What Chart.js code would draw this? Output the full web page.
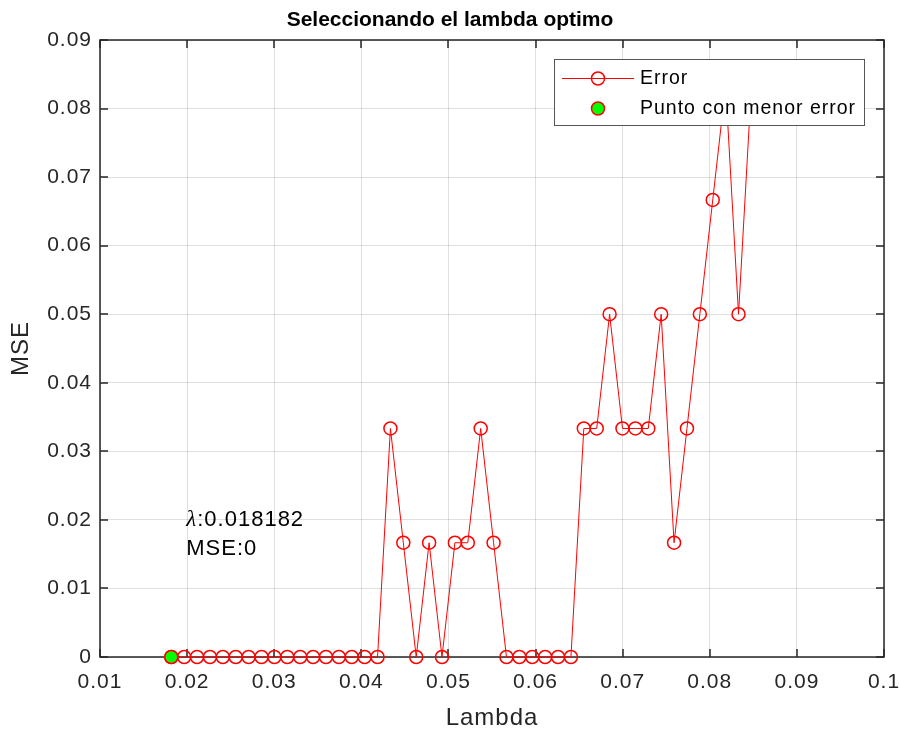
<!DOCTYPE html>
<html>
<head>
<meta charset="utf-8">
<script src="https://cdn.jsdelivr.net/npm/chart.js@4.4.0/dist/chart.umd.min.js"></script>
<style>
  html, body { margin: 0; padding: 0; background: #fff; }
  canvas { display: block; }
</style>
</head>
<body>
<canvas id="myChart" width="900" height="731"></canvas>
<script>
// lambda values that were tried
const lambdas = [
  0.018182, 0.01966, 0.02114, 0.02262, 0.02410, 0.02558, 0.02706, 0.02854,
  0.03002, 0.03150, 0.03298, 0.03446, 0.03594, 0.03742, 0.03890, 0.04038,
  0.04186, 0.04334, 0.04482, 0.04630, 0.04778, 0.04926, 0.05074, 0.05222,
  0.05370, 0.05518, 0.05666, 0.05814, 0.05962, 0.06110, 0.06258, 0.06406,
  0.06554, 0.06702, 0.06850, 0.06998, 0.07146, 0.07294, 0.07442, 0.07590,
  0.07738, 0.07886, 0.08034, 0.08182, 0.08330, 0.08478,
];

// MSE for each lambda
const mseValues = [
  0, 0, 0, 0, 0, 0, 0, 0,
  0, 0, 0, 0, 0, 0, 0, 0,
  0, 0.033333, 0.016667, 0, 0.016667, 0, 0.016667, 0.016667,
  0.033333, 0.016667, 0, 0, 0, 0, 0, 0,
  0.033333, 0.033333, 0.05, 0.033333, 0.033333, 0.033333, 0.05, 0.016667,
  0.033333, 0.05, 0.066667, 0.083333, 0.05, 0.083333,
];

// point with the smallest error
const bestLambda = [0.018182];
const bestMse = [0];

const xTickValues = [0.01, 0.02, 0.03, 0.04, 0.05, 0.06, 0.07, 0.08, 0.09, 0.1];
const xTickLabels = ["0.01", "0.02", "0.03", "0.04", "0.05", "0.06", "0.07", "0.08", "0.09", "0.1"];
const yTickValues = [0, 0.01, 0.02, 0.03, 0.04, 0.05, 0.06, 0.07, 0.08, 0.09];
const yTickLabels = ["0", "0.01", "0.02", "0.03", "0.04", "0.05", "0.06", "0.07", "0.08", "0.09"];

const fontFamily = "'Liberation Sans', Arial, sans-serif";
const axisColor = "#262626";
const gridColor = "rgba(38, 38, 38, 0.15)";

// MATLAB-like text is a bit wider than plain Arial
const textSpacing = {
  id: "textSpacing",
  beforeUpdate(chart) {
    chart.ctx.letterSpacing = "1px";
  },
  beforeDraw(chart) {
    chart.ctx.letterSpacing = "1px";
  },
};

// full box round the axes with inward ticks
const axesBox = {
  id: "axesBox",
  beforeDatasetsDraw(chart) {
    const { ctx, chartArea: a, scales } = chart;
    const len = 8;
    ctx.save();
    ctx.strokeStyle = axisColor;
    ctx.lineWidth = 1.5;
    ctx.strokeRect(a.left, a.top, a.right - a.left, a.bottom - a.top);
    ctx.beginPath();
    xTickValues.forEach((v) => {
      const px = Math.round(scales.x.getPixelForValue(v));
      ctx.moveTo(px, a.bottom);
      ctx.lineTo(px, a.bottom - len);
      ctx.moveTo(px, a.top);
      ctx.lineTo(px, a.top + len);
    });
    yTickValues.forEach((v) => {
      const py = Math.round(scales.y.getPixelForValue(v));
      ctx.moveTo(a.left, py);
      ctx.lineTo(a.left + len, py);
      ctx.moveTo(a.right, py);
      ctx.lineTo(a.right - len, py);
    });
    ctx.stroke();
    ctx.restore();
  },
};

// text next to the best point
const bestLabel = {
  id: "bestLabel",
  afterDatasetsDraw(chart) {
    const { ctx, scales } = chart;
    const x = scales.x.getPixelForValue(bestLambda[0]) + 15;
    const y = scales.y.getPixelForValue(0.02);
    ctx.save();
    ctx.fillStyle = "#000";
    ctx.textBaseline = "middle";
    ctx.textAlign = "left";
    ctx.font = "italic 23px 'Liberation Serif', serif";
    ctx.fillText("λ", x, y);
    const w = ctx.measureText("λ").width;
    ctx.font = "22px " + fontFamily;
    ctx.fillText(":" + bestLambda[0], x + w, y);
    ctx.fillText("MSE:" + bestMse[0], x, y + 29);
    ctx.restore();
  },
};

// legend box inside the axes, top right
const legendBox = {
  id: "legendBox",
  afterDraw(chart) {
    const { ctx, chartArea } = chart;
    const sets = chart.data.datasets;
    ctx.save();
    ctx.font = "19.5px " + fontFamily;
    const textW = Math.max(...sets.map((d) => ctx.measureText(d.label).width));
    const rowH = 30.6;
    const w = Math.round(86 + textW + 8);
    const h = Math.round(rowH * sets.length + 4.5);
    const x = Math.round(chartArea.right - 20 - w);
    const y = Math.round(chartArea.top + 19);
    ctx.fillStyle = "#fff";
    ctx.fillRect(x, y, w, h);
    ctx.strokeStyle = "#555";
    ctx.lineWidth = 1;
    ctx.strokeRect(x + 0.5, y + 0.5, w, h);
    sets.forEach((d, i) => {
      const cy = Math.round(y + 18.5 + i * rowH) + 0.5;
      if (d.showLine !== false) {
        ctx.strokeStyle = d.borderColor;
        ctx.lineWidth = d.borderWidth;
        ctx.beginPath();
        ctx.moveTo(x + 8, cy);
        ctx.lineTo(x + 80, cy);
        ctx.stroke();
      }
      ctx.beginPath();
      ctx.arc(x + 44, cy, d.pointRadius, 0, Math.PI * 2);
      ctx.fillStyle = d.pointBackgroundColor;
      ctx.fill();
      ctx.strokeStyle = d.pointBorderColor;
      ctx.lineWidth = d.pointBorderWidth;
      ctx.stroke();
      ctx.fillStyle = "#000";
      ctx.textBaseline = "middle";
      ctx.textAlign = "left";
      ctx.fillText(d.label, x + 86, cy);
    });
    ctx.restore();
  },
};

// chart title
const chartTitle = {
  id: "chartTitle",
  afterDraw(chart) {
    const { ctx } = chart;
    ctx.save();
    ctx.letterSpacing = "0px";
    ctx.font = "bold 21px " + fontFamily;
    ctx.fillStyle = "#000";
    ctx.textAlign = "center";
    ctx.textBaseline = "middle";
    ctx.fillText("Seleccionando el lambda optimo", 450, 20);
    ctx.restore();
  },
};

const ctx = document.getElementById("myChart").getContext("2d");

new Chart(ctx, {
  type: "line",
  data: {
    datasets: [
      {
        label: "Error",
        data: lambdas.map((x, i) => ({ x: x, y: mseValues[i] })),
        borderColor: "#ff0000",
        borderWidth: 1,
        pointRadius: 6.5,
        pointHoverRadius: 6.5,
        pointBorderColor: "#ff0000",
        pointBackgroundColor: "rgba(0, 0, 0, 0)",
        pointBorderWidth: 1.5,
        tension: 0,
        fill: false,
        clip: false,
        order: 1,
      },
      {
        label: "Punto con menor error",
        data: bestLambda.map((x, i) => ({ x: x, y: bestMse[i] })),
        showLine: false,
        pointRadius: 6.5,
        pointHoverRadius: 6.5,
        pointBackgroundColor: "#00ff00",
        pointBorderColor: "#ff0000",
        pointBorderWidth: 1.5,
        clip: false,
        order: 0,
      },
    ],
  },
  options: {
    responsive: false,
    animation: false,
    devicePixelRatio: 1,
    events: [],
    layout: { padding: { left: 0, right: 16, top: 40, bottom: 0 } },
    plugins: {
      legend: { display: false },
      tooltip: { enabled: false },
      title: { display: false },
    },
    scales: {
      x: {
        type: "linear",
        min: 0.01,
        max: 0.1,
        afterBuildTicks: (s) => {
          s.ticks = xTickValues.map((v) => ({ value: v }));
        },
        afterFit: (s) => {
          s.height = 74;
          s.paddingLeft = 0;
          s.paddingRight = 0;
        },
        ticks: {
          callback: (v, i) => xTickLabels[i],
          color: axisColor,
          font: { family: fontFamily, size: 21 },
          padding: 13,
          maxRotation: 0,
          autoSkip: false,
        },
        grid: { color: gridColor, drawTicks: false },
        border: { display: false },
        title: {
          display: true,
          text: "Lambda",
          color: axisColor,
          font: { family: fontFamily, size: 24, lineHeight: 1 },
          padding: { top: 0, bottom: 1 },
        },
      },
      y: {
        type: "linear",
        min: 0,
        max: 0.09,
        afterBuildTicks: (s) => {
          s.ticks = yTickValues.map((v) => ({ value: v }));
        },
        afterFit: (s) => {
          s.width = 100;
          s.paddingTop = 0;
          s.paddingBottom = 0;
        },
        ticks: {
          callback: (v, i) => yTickLabels[i],
          color: axisColor,
          font: { family: fontFamily, size: 21 },
          padding: 8,
          autoSkip: false,
        },
        grid: { color: gridColor, drawTicks: false },
        border: { display: false },
        title: {
          display: true,
          text: "MSE",
          color: axisColor,
          font: { family: fontFamily, size: 24, lineHeight: 1 },
          padding: { top: 9, bottom: 0 },
        },
      },
    },
  },
  plugins: [textSpacing, axesBox, bestLabel, legendBox, chartTitle],
});
</script>
</body>
</html>
